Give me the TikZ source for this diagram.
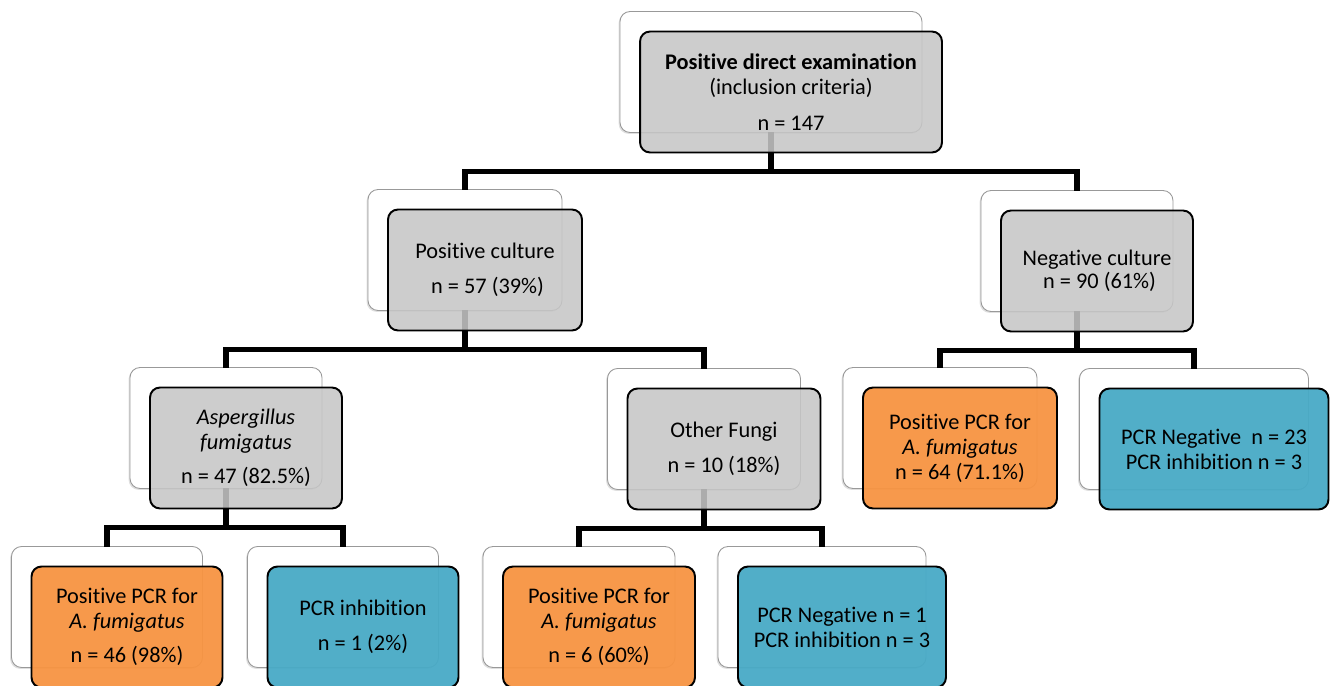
\documentclass[tikz,border=0pt]{standalone}
\usepackage{fontspec}
\setmainfont{Carlito}[Ligatures=NoCommon]
\usetikzlibrary{shadows}
\definecolor{boxgray}{RGB}{198,198,198}
\definecolor{pcrorange}{RGB}{247,148,66}
\definecolor{pcrblue}{RGB}{72,170,198}

\begin{document}
\begin{tikzpicture}
      [x=0.02cm,y=-0.02cm
      ,back/.style={draw=black!40,line width=.5pt,fill=white,rounded corners=0.2cm,
         minimum height=2.42cm,inner sep=0pt,outer sep=0pt,
         drop shadow={shadow xshift=-.8pt,shadow yshift=-.8pt,opacity=.25}}
      ,front/.style={draw=black,line width=1.1pt,fill opacity=.87,text opacity=1,
         rounded corners=0.2cm,minimum height=2.42cm,inner sep=0pt,outer sep=0pt,
         align=center,font=\fontsize{12.7}{14.2}\selectfont}
      ,greybox/.style={front,fill=boxgray}
      ,orangebox/.style={front,fill=pcrorange,fill opacity=.95}
      ,bluebox/.style={front,fill=pcrblue,fill opacity=.95}
      ,conn/.style={line width=3pt}
      ]
        \useasboundingbox (0,0) rectangle (1330,686);
        % back cards
        \node[back,minimum width=6.04cm] (examB) at (771,72) {};
        \node[back,minimum width=3.88cm] (poscultB) at (465,250) {};
        \node[back,minimum width=3.84cm] (negcultB) at (1077,251) {};
        \node[back,minimum width=3.84cm] (aspB) at (226,428) {};
        \node[back,minimum width=3.86cm] (otherB) at (704,429) {};
        \node[back,minimum width=3.88cm] (ncposB) at (940,428) {};
        \node[back,minimum width=4.58cm] (ncnegB) at (1194,429) {};
        \node[back,minimum width=3.82cm] (asppcrB) at (107,607) {};
        \node[back,minimum width=3.82cm] (aspinhB) at (343,607) {};
        \node[back,minimum width=3.84cm] (othpcrB) at (579,607) {};
        \node[back,minimum width=4.16cm] (othnegB) at (822,607) {};
        % tree lines
        \foreach \p/\c in {examB/poscultB,examB/negcultB,poscultB/aspB,poscultB/otherB,
                           negcultB/ncposB,negcultB/ncnegB,aspB/asppcrB,aspB/aspinhB,
                           otherB/othpcrB,otherB/othnegB}{
          \draw[conn] (\p.south) -- ++(0,39) -| (\c.north);
        }
        % front cards
        \node[greybox,minimum width=6.04cm] (exam) at ([shift={(20,20)}]examB.center)
          {\textbf{Positive direct examination}\\(inclusion criteria)\\[6.2pt]n = 147};
        \node[greybox,minimum width=3.88cm] (poscult) at ([shift={(20,20)}]poscultB.center)
          {Positive culture\\[5.7pt]\ n = 57 (39\%)};
        \node[greybox,minimum width=3.84cm] (negcult) at ([shift={(20,20)}]negcultB.center)
          {Negative culture\\[-1pt]\ n = 90 (61\%)};
        \node[greybox,minimum width=3.84cm] (asp) at ([shift={(20,20)}]aspB.center)
          {\textit{Aspergillus}\\\textit{fumigatus}\\[5pt]n = 47 (82.5\%)};
        \node[greybox,minimum width=3.86cm] (other) at ([shift={(20,20)}]otherB.center)
          {Other Fungi\\[5.7pt]n = 10 (18\%)};
        \node[orangebox,minimum width=3.88cm] (ncpos) at ([shift={(20,20)}]ncposB.center)
          {Positive PCR for\\\textit{A. fumigatus}\\n = 64 (71.1\%)};
        \node[bluebox,minimum width=4.58cm] (ncneg) at ([shift={(20,20)}]ncnegB.center)
          {PCR Negative\ \ n = 23\\PCR inhibition n = 3};
        \node[orangebox,minimum width=3.82cm] (asppcr) at ([shift={(20,20)}]asppcrB.center)
          {Positive PCR for\\\textit{A. fumigatus}\\[5pt]n = 46 (98\%)};
        \node[bluebox,minimum width=3.82cm] (aspinh) at ([shift={(20,20)}]aspinhB.center)
          {PCR inhibition\\[5.7pt]n = 1 (2\%)};
        \node[orangebox,minimum width=3.84cm] (othpcr) at ([shift={(20,20)}]othpcrB.center)
          {Positive PCR for\\\textit{A. fumigatus}\\[5pt]n = 6 (60\%)};
        \node[bluebox,minimum width=4.16cm] (othneg) at ([shift={(20,20)}]othnegB.center)
          {PCR Negative n = 1\\PCR inhibition n = 3};
      \end{tikzpicture}
\end{document}
